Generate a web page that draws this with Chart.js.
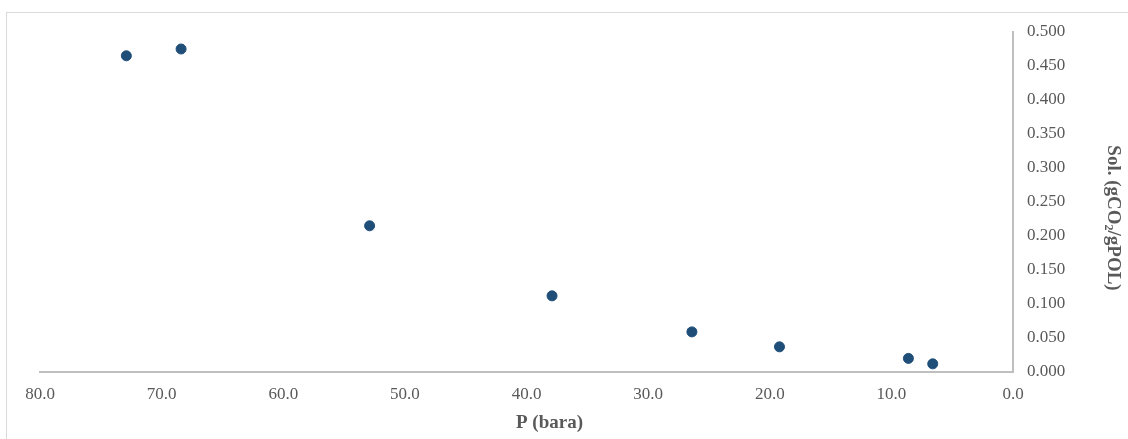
<!DOCTYPE html>
<html>
<head>
<meta charset="utf-8">
<script src="https://cdn.jsdelivr.net/npm/chart.js@4/dist/chart.umd.min.js"></script>
<style>
html,body{margin:0;padding:0;background:#fff;}
#wrap{position:relative;width:1128px;height:439px;}
</style>
</head>
<body>
<div id="wrap"><canvas id="c" width="1128" height="439"></canvas></div>
<script>
const pressure = [72.9, 68.4, 52.9, 37.9, 26.4, 19.2, 8.6, 6.6];
const solubility = [0.465, 0.475, 0.215, 0.112, 0.059, 0.037, 0.020, 0.012];
const xTitle = 'P (bara)';
const yTitleParts = ['Sol. (gCO', '2', '/gPOL)'];

const pts = pressure.map((p, i) => ({x: p, y: solubility[i]}));

const borderPlugin = {
  id: 'outerBorder',
  beforeDraw(chart) {
    const ctx = chart.ctx;
    ctx.save();
    ctx.fillStyle = '#fff';
    ctx.fillRect(0, 0, chart.width, chart.height);
    ctx.strokeStyle = '#D9D9D9';
    ctx.lineWidth = 1;
    ctx.strokeRect(6.5, 12.5, chart.width + 10, chart.height + 10);
    ctx.restore();
  }
};

const titlePlugin = {
  id: 'axisTitles',
  afterDraw(chart) {
    const ctx = chart.ctx;
    const ca = chart.chartArea;
    ctx.save();
    ctx.fillStyle = '#595959';
    const big = 'bold 19px "Liberation Serif"';
    const small = 'bold 12px "Liberation Serif"';
    // x title
    ctx.font = big;
    ctx.textAlign = 'center';
    ctx.textBaseline = 'middle';
    ctx.fillText(xTitle, (ca.left + ca.right) / 2 + 23, 423);
    // y title (rotated, reading top to bottom)
    ctx.font = big;
    const w0 = ctx.measureText(yTitleParts[0]).width;
    const w2 = ctx.measureText(yTitleParts[2]).width;
    ctx.font = small;
    const w1 = ctx.measureText(yTitleParts[1]).width;
    const total = w0 + w1 + w2;
    ctx.translate(1113, (ca.top + ca.bottom) / 2 + 16);
    ctx.rotate(Math.PI / 2);
    ctx.textAlign = 'left';
    ctx.textBaseline = 'middle';
    let x = -total / 2;
    ctx.font = big;
    ctx.fillText(yTitleParts[0], x, 0);
    x += w0;
    ctx.font = small;
    ctx.fillText(yTitleParts[1], x, 5);
    x += w1;
    ctx.font = big;
    ctx.fillText(yTitleParts[2], x, 0);
    ctx.restore();
  }
};

new Chart(document.getElementById('c'), {
  type: 'scatter',
  data: {
    datasets: [{
      data: pts,
      backgroundColor: '#1F4E79',
      borderColor: '#1F4E79',
      pointRadius: 5,
      pointHoverRadius: 5
    }]
  },
  plugins: [borderPlugin, titlePlugin],
  options: {
    responsive: false,
    animation: false,
    devicePixelRatio: 1,
    layout: {padding: {left: 40, top: 32, right: 0, bottom: 0}},
    plugins: {legend: {display: false}, tooltip: {enabled: false}},
    scales: {
      x: {
        type: 'linear',
        reverse: true,
        min: 0, max: 80,
        grid: {display: false, drawTicks: false},
        border: {display: true, color: '#BFBFBF', width: 2},
        ticks: {
          stepSize: 10,
          padding: 12,
          color: '#595959',
          font: {family: 'Liberation Serif', size: 17},
          callback: v => Number(v).toFixed(1),
          maxRotation: 0
        },
        title: {display: false},
        afterFit(s) { s.height = 67; }
      },
      y: {
        type: 'linear',
        position: 'right',
        min: 0, max: 0.5,
        grid: {display: false, drawTicks: false},
        border: {display: true, color: '#BFBFBF', width: 2},
        ticks: {
          stepSize: 0.05,
          padding: 14,
          color: '#595959',
          font: {family: 'Liberation Serif', size: 17},
          callback: v => Number(v).toFixed(3)
        },
        title: {display: false},
        afterFit(s) { s.width = 115; }
      }
    }
  }
});
</script>
</body>
</html>
